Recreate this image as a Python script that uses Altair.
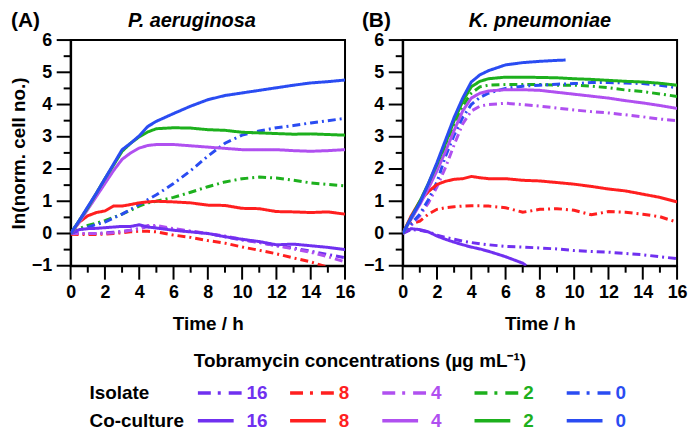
import altair as alt
import pandas as pd

FONT = "Liberation Sans"
CONC = ["16", "8", "4", "2", "0"]
COLORS = ["#7030F0", "#FF1F1F", "#B050F0", "#1DB01D", "#2A4CF2"]
CULTURES = ["Isolate", "Co-culture"]

T = [0, 0.5, 1, 1.5, 2, 2.5, 3, 3.5, 4, 4.5, 5, 6, 7, 8, 9, 10, 11, 12, 13, 14, 15, 16]

# Panel A: P. aeruginosa
A_iso_16 = [0, 0, 0, 0, 0.02, 0.04, 0.06, 0.1, 0.15, 0.22, 0.22, 0.12, 0.06, 0.0, -0.1, -0.2, -0.28, -0.38, -0.45, -0.55, -0.65, -0.75]
A_iso_8 = [-0.02, -0.03, -0.03, -0.03, -0.02, 0.0, 0.02, 0.05, 0.07, 0.07, 0.05, -0.05, -0.12, -0.22, -0.3, -0.42, -0.52, -0.63, -0.76, -0.88, -1.05, None]
A_iso_4 = [0, 0, 0, 0, 0, 0.02, 0.05, 0.1, 0.15, 0.25, 0.25, 0.15, 0.08, 0.0, -0.08, -0.18, -0.27, -0.38, -0.48, -0.58, -0.72, -0.88]
A_iso_2 = [0, 0.15, 0.25, 0.32, 0.4, 0.5, 0.6, 0.72, 0.85, 0.95, 1.0, 1.12, 1.28, 1.45, 1.6, 1.7, 1.75, 1.72, 1.65, 1.57, 1.52, 1.48]
A_iso_0 = [0, 0.1, 0.2, 0.28, 0.35, 0.48, 0.6, 0.75, 0.9, 1.05, 1.2, 1.55, 1.95, 2.4, 2.8, 3.05, 3.18, 3.28, 3.35, 3.43, 3.5, 3.57]
A_co_16 = [0, 0.12, 0.15, 0.16, 0.18, 0.2, 0.22, 0.22, 0.27, 0.2, 0.17, 0.1, 0.05, 0.0, -0.1, -0.18, -0.25, -0.35, -0.33, -0.38, -0.43, -0.5]
A_co_8 = [0, 0.35, 0.55, 0.65, 0.7, 0.85, 0.85, 0.9, 0.95, 0.98, 1.0, 0.98, 0.95, 0.88, 0.87, 0.78, 0.77, 0.68, 0.67, 0.65, 0.67, 0.6]
A_co_4 = [0, 0.35, 0.75, 1.15, 1.55, 1.95, 2.3, 2.5, 2.65, 2.73, 2.76, 2.76, 2.72, 2.68, 2.64, 2.6, 2.6, 2.6, 2.57, 2.55, 2.57, 2.6]
A_co_2 = [0, 0.4, 0.8, 1.25, 1.7, 2.12, 2.55, 2.8, 3.0, 3.15, 3.25, 3.28, 3.27, 3.22, 3.2, 3.14, 3.12, 3.1, 3.08, 3.09, 3.07, 3.05]
A_co_0 = [0, 0.4, 0.83, 1.25, 1.7, 2.15, 2.6, 2.8, 3.03, 3.32, 3.48, 3.72, 3.95, 4.15, 4.28, 4.36, 4.44, 4.52, 4.6, 4.67, 4.71, 4.76]

# Panel B: K. pneumoniae
B_iso_16 = [0, 0.12, 0.1, 0.05, -0.05, -0.12, -0.18, -0.24, -0.28, -0.32, -0.35, -0.4, -0.42, -0.45, -0.48, -0.53, -0.56, -0.58, -0.62, -0.66, -0.72, -0.78]
B_iso_8 = [0, 0.3, 0.38, 0.6, 0.75, 0.8, 0.83, 0.85, 0.86, 0.86, 0.85, 0.8, 0.66, 0.75, 0.77, 0.72, 0.58, 0.68, 0.66, 0.6, 0.52, 0.35]
B_iso_4 = [0, 0.25, 0.55, 0.95, 1.45, 2.05, 2.75, 3.4, 3.8, 3.95, 4.0, 4.04, 4.0, 3.95, 3.89, 3.83, 3.78, 3.74, 3.68, 3.62, 3.55, 3.5]
B_iso_2 = [0, 0.45, 0.95, 1.5, 2.1, 2.75, 3.4, 3.95, 4.35, 4.55, 4.6, 4.62, 4.62, 4.62, 4.6, 4.6, 4.57, 4.52, 4.45, 4.4, 4.33, 4.25]
B_iso_0 = [0, 0.3, 0.6, 1.05, 1.6, 2.4, 3.05, 3.6, 4.0, 4.22, 4.35, 4.5, 4.57, 4.6, 4.63, 4.65, 4.68, 4.68, 4.67, 4.65, 4.6, 4.52]
B_co_16_T = [0, 0.5, 1, 1.5, 2, 2.5, 3, 3.5, 4, 4.5, 5, 6, 7, 7.2]
B_co_16 = [0, 0.15, 0.12, 0.05, -0.08, -0.18, -0.27, -0.35, -0.42, -0.48, -0.55, -0.72, -0.92, -1.0]
B_co_8 = [0, 0.55, 1.0, 1.3, 1.52, 1.62, 1.68, 1.7, 1.77, 1.73, 1.7, 1.7, 1.65, 1.63, 1.58, 1.53, 1.46, 1.38, 1.32, 1.22, 1.12, 0.98]
B_co_4 = [0, 0.45, 0.9, 1.4, 1.95, 2.55, 3.2, 3.8, 4.2, 4.35, 4.42, 4.46, 4.46, 4.44, 4.38, 4.32, 4.26, 4.2, 4.12, 4.05, 3.97, 3.88]
B_co_2 = [0, 0.5, 1.0, 1.55, 2.15, 2.8, 3.5, 4.1, 4.55, 4.72, 4.8, 4.85, 4.85, 4.84, 4.83, 4.8, 4.78, 4.75, 4.72, 4.7, 4.66, 4.6]
B_co_0_T = [0, 0.5, 1, 1.5, 2, 2.5, 3, 3.5, 4, 4.5, 5, 6, 7, 8, 9, 9.5]
B_co_0 = [0, 0.5, 0.95, 1.55, 2.2, 2.9, 3.6, 4.2, 4.7, 4.92, 5.05, 5.23, 5.3, 5.34, 5.37, 5.38]

SERIES = [
    ("A", "Isolate", "16", T, A_iso_16), ("A", "Isolate", "8", T, A_iso_8),
    ("A", "Isolate", "4", T, A_iso_4), ("A", "Isolate", "2", T, A_iso_2),
    ("A", "Isolate", "0", T, A_iso_0),
    ("A", "Co-culture", "16", T, A_co_16), ("A", "Co-culture", "8", T, A_co_8),
    ("A", "Co-culture", "4", T, A_co_4), ("A", "Co-culture", "2", T, A_co_2),
    ("A", "Co-culture", "0", T, A_co_0),
    ("B", "Isolate", "16", T, B_iso_16), ("B", "Isolate", "8", T, B_iso_8),
    ("B", "Isolate", "4", T, B_iso_4), ("B", "Isolate", "2", T, B_iso_2),
    ("B", "Isolate", "0", T, B_iso_0),
    ("B", "Co-culture", "16", B_co_16_T, B_co_16), ("B", "Co-culture", "8", T, B_co_8),
    ("B", "Co-culture", "4", T, B_co_4), ("B", "Co-culture", "2", T, B_co_2),
    ("B", "Co-culture", "0", B_co_0_T, B_co_0),
]

rows = []
for panel_id, culture, conc, times, vals in SERIES:
    for t, v in zip(times, vals):
        if v is None:
            continue
        rows.append({"panel": panel_id, "culture": culture, "conc": conc,
                     "series": f"{culture}-{conc}", "time": t, "value": v})
df = pd.DataFrame(rows)

color_scale = alt.Scale(domain=CONC, range=COLORS)
dash_scale = alt.Scale(domain=CULTURES, range=[[8, 4, 2, 4], [1, 0]])

X_MAJOR = list(range(0, 17, 2))
X_MINOR = list(range(1, 17, 2))
Y_MAJOR = list(range(-1, 7))
Y_MINOR = [v + 0.5 for v in range(-1, 6)]

XS = alt.Scale(domain=[0, 16], nice=False)
YS = alt.Scale(domain=[-1, 6], nice=False)

W, H = 276, 227
MAJOR_LEN, MINOR_LEN = 14, 7


def panel(pid, letter, species, species_x, letter_x, ytitle):
    sub = df[df.panel == pid]
    xaxis = alt.Axis(values=X_MAJOR, title="Time / h", format="d", ticks=False,
                     labelPadding=MAJOR_LEN + 4, titlePadding=13, labelFlush=False,
                     labelOverlap=False)
    yaxis = alt.Axis(values=Y_MAJOR, title=ytitle, format="d", ticks=False,
                     labelPadding=MAJOR_LEN + 5, titlePadding=3, labelFlush=False,
                     labelOverlap=False)
    lines = alt.Chart(sub).mark_line(strokeWidth=3, clip=True).encode(
        x=alt.X("time:Q", scale=XS, axis=xaxis),
        y=alt.Y("value:Q", scale=YS, axis=yaxis),
        color=alt.Color("conc:N", scale=color_scale, legend=None),
        strokeDash=alt.StrokeDash("culture:N", scale=dash_scale, legend=None),
        detail="series:N",
    )
    tick_style = dict(color="black", strokeWidth=2)
    xt_major = alt.Chart(pd.DataFrame({"time": X_MAJOR})).mark_rule(**tick_style).encode(
        x=alt.X("time:Q", scale=XS, axis=xaxis), y=alt.value(H), y2=alt.value(H + MAJOR_LEN))
    xt_minor = alt.Chart(pd.DataFrame({"time": X_MINOR})).mark_rule(**tick_style).encode(
        x=alt.X("time:Q", scale=XS, axis=xaxis), y=alt.value(H), y2=alt.value(H + MINOR_LEN))
    yt_major = alt.Chart(pd.DataFrame({"value": Y_MAJOR})).mark_rule(**tick_style).encode(
        y=alt.Y("value:Q", scale=YS, axis=yaxis), x=alt.value(0), x2=alt.value(-MAJOR_LEN))
    yt_minor = alt.Chart(pd.DataFrame({"value": Y_MINOR})).mark_rule(**tick_style).encode(
        y=alt.Y("value:Q", scale=YS, axis=yaxis), x=alt.value(0), x2=alt.value(-MINOR_LEN))
    lab = alt.Chart(pd.DataFrame({"t": [letter]})).mark_text(
        align="left", baseline="alphabetic", fontSize=21, fontWeight="bold", font=FONT, color="black"
    ).encode(text="t:N", x=alt.value(letter_x), y=alt.value(-13))
    sp = alt.Chart(pd.DataFrame({"t": [species]})).mark_text(
        align="center", baseline="alphabetic", fontSize=20, fontWeight="bold", fontStyle="italic",
        font=FONT, color="black"
    ).encode(text="t:N", x=alt.value(species_x), y=alt.value(-13))
    return alt.layer(lines, xt_major, xt_minor, yt_major, yt_minor, lab, sp).properties(
        width=W, height=H,
        view=alt.ViewBackground(stroke="black", strokeWidth=2),
    )


pA = panel("A", "(A)", "P. aeruginosa", 122, -60, "ln(norm. cell no.)")
pB = panel("B", "(B)", "K. pneumoniae", 138, -41, "")

# Legend (its origin lines up with panel A's plot origin)
leg_rows = [{"culture": c, "conc": k} for c in CULTURES for k in CONC]
leg = pd.DataFrame(leg_rows)
lx = alt.X("conc:N", scale=alt.Scale(type="point", domain=CONC, range=[128, 499], padding=0), axis=None)
ly = alt.Y("culture:N", scale=alt.Scale(type="point", domain=CULTURES, range=[56, 84], padding=0), axis=None)

iso_rule = alt.Chart(leg[leg.culture == "Isolate"]).mark_rule(
    strokeWidth=3.5, x2Offset=46, strokeDash=[13, 7, 3, 8]
).encode(x=lx, x2="conc:N", y=ly, color=alt.Color("conc:N", scale=color_scale, legend=None))
co_rule = alt.Chart(leg[leg.culture == "Co-culture"]).mark_rule(
    strokeWidth=3.5, x2Offset=36
).encode(x=lx, x2="conc:N", y=ly, color=alt.Color("conc:N", scale=color_scale, legend=None))
leg_text = alt.Chart(leg).mark_text(
    align="left", baseline="middle", dx=49, fontSize=19, fontWeight="bold", font=FONT
).encode(x=lx, y=ly, text="conc:N", color=alt.Color("conc:N", scale=color_scale, legend=None))
row_text = alt.Chart(pd.DataFrame({"culture": CULTURES})).mark_text(
    align="left", baseline="middle", fontSize=19, fontWeight="bold", font=FONT, color="black"
).encode(x=alt.value(19), y=ly, text="culture:N")
leg_title = alt.Chart(pd.DataFrame({"t": ["Tobramycin concentrations (µg mL⁻¹)"]})).mark_text(
    align="center", baseline="middle", fontSize=19, fontWeight="bold", font=FONT, color="black"
).encode(x=alt.value(291), y=alt.value(24), text="t:N")

legend = alt.layer(iso_rule, co_rule, leg_text, row_text, leg_title).properties(
    width=600, height=92, view=alt.ViewBackground(stroke="transparent")
)

chart = alt.vconcat(
    alt.hconcat(pA, pB, spacing=4), legend, spacing=2
).properties(padding=0).configure_view(stroke="transparent").configure_axis(
    domainColor="black", domainWidth=2, grid=False, labelOverlap=False,
    labelFont=FONT, labelFontSize=18, labelFontWeight="bold", labelColor="black",
    titleFont=FONT, titleFontSize=19, titleFontWeight="bold", titleColor="black",
)

chart.save("out.html", embed_options={"renderer": "svg", "actions": False})
